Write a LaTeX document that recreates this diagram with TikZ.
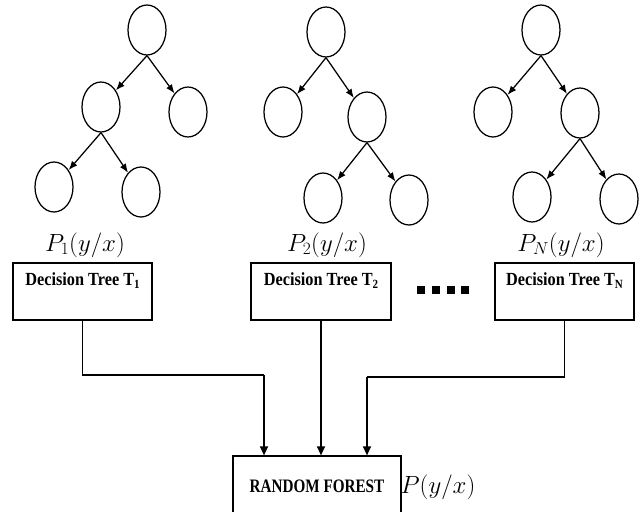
\documentclass[tikz,border=0pt]{standalone}
\usepackage{fontspec}
\setmainfont{Liberation Serif}
\newfontfamily\boxfont{Liberation Serif}[FakeStretch=0.88]
\newfontfamily\rffont{Liberation Serif}[FakeStretch=0.80]
\usetikzlibrary{arrows.meta,shapes.geometric}

% subscript of a tree name, slightly larger and lower than \textsubscript
\newcommand{\treeidx}[1]{\raisebox{-0.35ex}{\fontsize{12.5}{13}\selectfont #1}}

\tikzset{
  treenode/.style={draw, ellipse, minimum width=38pt, minimum height=50pt,
                   inner sep=0pt, line width=1.25pt},
  treearrow/.style={line width=1.25pt, -{Latex[length=9pt,width=7pt]}},
  dtbox/.style={draw, rectangle, line width=1.25pt, minimum width=139pt,
                minimum height=57pt, inner sep=0pt},
  dtcaption/.style={font=\boxfont\fontsize{18.5}{20}\selectfont\bfseries, inner sep=0pt},
  rfbox/.style={draw, rectangle, line width=1.25pt, minimum width=168pt,
                minimum height=60pt, inner sep=0pt,
                font=\rffont\fontsize{19}{20}\selectfont\bfseries},
  plabel/.style={font=\fontsize{23}{26}\selectfont, inner sep=0pt},
  flow/.style={line width=1.25pt, -{Triangle[length=9pt,width=8pt]}},
  link/.style={line width=1.25pt},
  dotsq/.style={fill, rectangle, minimum size=7.5pt, inner sep=0pt}
}

\begin{document}
\begin{tikzpicture}[x=1pt, y=-1pt]
  \useasboundingbox (0,0) rectangle (642,511);
  \clip (0,0) rectangle (642,511);

  % first tree
  \node[treenode] (t1r) at (147,30)  {};
  \node[treenode] (t1a) at (101,107) {};
  \node[treenode] (t1b) at (188,112) {};
  \node[treenode] (t1c) at (54,187)  {};
  \node[treenode] (t1d) at (141,192) {};
  \draw[treearrow] (t1r.south) -- (t1a);
  \draw[treearrow] (t1r.south) -- (t1b);
  \draw[treearrow] (t1a.south) -- (t1c);
  \draw[treearrow] (t1a.south) -- (t1d);

  % second tree
  \node[treenode] (t2r) at (326,32)  {};
  \node[treenode] (t2a) at (283,112) {};
  \node[treenode] (t2b) at (367,117) {};
  \node[treenode] (t2c) at (323,198) {};
  \node[treenode] (t2d) at (409,200) {};
  \draw[treearrow] (t2r.south) -- (t2a);
  \draw[treearrow] (t2r.south) -- (t2b);
  \draw[treearrow] (t2b.south) -- (t2c);
  \draw[treearrow] (t2b.south) -- (t2d);

  % last tree
  \node[treenode] (tnr) at (541,30)  {};
  \node[treenode] (tna) at (493,112) {};
  \node[treenode] (tnb) at (580,113) {};
  \node[treenode] (tnc) at (532,197) {};
  \node[treenode] (tnd) at (619,199) {};
  \draw[treearrow] (tnr.south) -- (tna);
  \draw[treearrow] (tnr.south) -- (tnb);
  \draw[treearrow] (tnb.south) -- (tnc);
  \draw[treearrow] (tnb.south) -- (tnd);

  % class probabilities
  \node[plabel] (p1) at (85,245)  {$P_1(y/x)$};
  \node[plabel] (p2) at (327,245) {$P_2(y/x)$};
  \node[plabel] (pn) at (561,245) {$P_N(y/x)$};

  % decision tree boxes
  \node[dtbox] (b1) at (82.5,291.5) {};
  \node[dtbox, minimum width=140pt] (b2) at (321,291.5) {};
  \node[dtbox] (bn) at (564.5,291.5) {};
  \node[dtcaption] (c1) at ([yshift=-18pt]b1.north) {Decision Tree T\treeidx{1}};
  \node[dtcaption] (c2) at ([yshift=-18pt]b2.north) {Decision Tree T\treeidx{2}};
  \node[dtcaption] (cn) at ([yshift=-18pt]bn.north) {Decision Tree T\treeidx{N}};

  % ellipsis squares
  \node[dotsq] (d1) at (421,290) {};
  \node[dotsq] (d2) at (436,290) {};
  \node[dotsq] (d3) at (451,290) {};
  \node[dotsq] (d4) at (465,290) {};

  % combined forest
  \node[rfbox] (rf) at (317,486) {RANDOM FOREST};
  \node[plabel] (pf) at (438,487) {$P(y/x)$};

  % connectors
  \coordinate (j1) at (264,375);
  \coordinate (jn) at (367,377);
  \draw[link] (b1.south) |- (j1);
  \draw[flow] (j1) -- (j1 |- rf.north);
  \draw[flow] (b2.south) -- (b2.south |- rf.north);
  \draw[link] (bn.south) |- (jn);
  \draw[flow] (jn) -- (jn |- rf.north);
\end{tikzpicture}
\end{document}
